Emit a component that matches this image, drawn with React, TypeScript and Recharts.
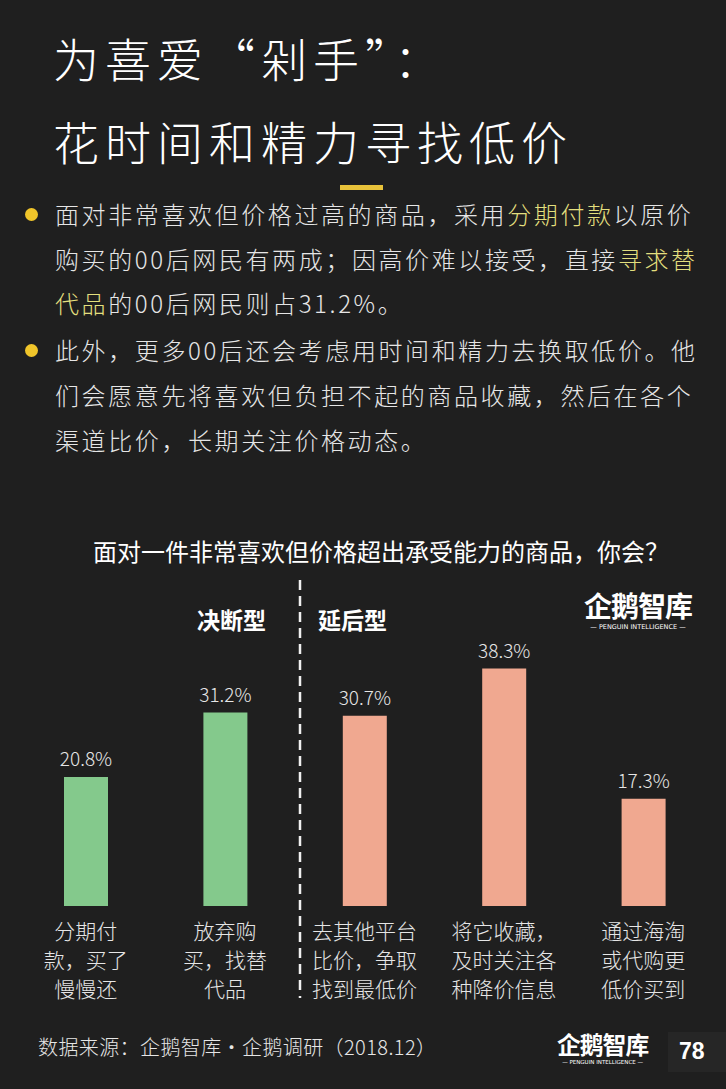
import React from "react";
import { BarChart, Bar, XAxis, YAxis, Cell, LabelList } from "recharts";

document.body.style.margin = "0";

const categories = ["分期付款", "放弃购买", "去其他平台比价", "将它收藏", "海淘或代购"];
const values = [20.8, 31.2, 30.7, 38.3, 17.3];
const labelLines = [
  ["分期付", "款，买了", "慢慢还"],
  ["放弃购", "买，找替", "代品"],
  ["去其他平台", "比价，争取", "找到最低价"],
  ["将它收藏，", "及时关注各", "种降价信息"],
  ["通过海淘", "或代购更", "低价买到"],
];
const groupOf = ["decisive", "decisive", "delayed", "delayed", "delayed"];

const GREEN = "#84c98c";
const SALMON = "#f0a890";
const BG = "#1f1f1f";
const TEXT = "#e6e6e6";
const HL = "#e3df7e";
const FONT = "'Noto Sans CJK SC', 'Noto Sans', sans-serif";

const data = categories.map((name, i) => ({ name, value: values[i] }));

const CategoryTick = (props: any) => {
  const { x, y, index } = props;
  const lines = labelLines[index] || [];
  return (
    <g>
      {lines.map((t, k) => (
        <text
          key={k}
          x={x}
          y={y + 25 + k * 29}
          textAnchor="middle"
          fill={TEXT}
          fontSize={21}
          fontWeight={300}
          fontFamily={FONT}
        >
          {t}
        </text>
      ))}
    </g>
  );
};

const Line = ({ top, children }: { top: number; children: React.ReactNode }) => (
  <div
    style={{
      position: "absolute",
      left: 55,
      top,
      fontSize: 24,
      letterSpacing: 2.6,
      color: TEXT,
      whiteSpace: "nowrap",
      lineHeight: "30px",
      fontWeight: 300,
    }}
  >
    {children}
  </div>
);

const Dot = ({ top }: { top: number }) => (
  <div
    style={{
      position: "absolute",
      left: 25,
      top,
      width: 13,
      height: 13,
      borderRadius: "50%",
      background: "#f0c52a",
    }}
  />
);

const Logo = ({ left, top, scale }: { left: number; top: number; scale: number }) => (
  <div style={{ position: "absolute", left, top, color: "#fff", textAlign: "center" }}>
    <div style={{ fontSize: 28 * scale, fontWeight: 700, lineHeight: `${30 * scale}px`, letterSpacing: -1 }}>
      企鹅智库
    </div>
    <div
      style={{
        fontSize: 6.5 * scale,
        fontFamily: "'DejaVu Sans', sans-serif",
        lineHeight: `${9 * scale}px`,
        marginTop: 3 * scale,
        whiteSpace: "nowrap",
      }}
    >
      — PENGUIN INTELLIGENCE —
    </div>
  </div>
);

export default function App() {
  return (
    <div
      style={{
        position: "relative",
        width: 726,
        height: 1089,
        background: BG,
        overflow: "hidden",
        fontFamily: FONT,
      }}
    >
      <div style={{ position: "absolute", left: 0, top: 0 }}>
        <BarChart
          width={726}
          height={1089}
          data={data}
          margin={{ top: 658, right: 13, bottom: 103, left: 16 }}
        >
          <XAxis
            dataKey="name"
            axisLine={false}
            tickLine={false}
            interval={0}
            height={80}
            tick={<CategoryTick />}
          />
          <YAxis hide domain={[0, 40]} />
          <Bar dataKey="value" barSize={44} isAnimationActive={false}>
            {data.map((_, i) => (
              <Cell key={i} fill={groupOf[i] === "decisive" ? GREEN : SALMON} />
            ))}
            <LabelList
              dataKey="value"
              position="top"
              offset={11}
              formatter={(v: any) => `${v}%`}
              fill={TEXT}
              fontSize={19}
              fontWeight={300}
              fontFamily={FONT}
            />
          </Bar>
        </BarChart>
      </div>

      {/* title */}
      <div
        style={{
          position: "absolute",
          left: 53,
          top: 16,
          color: "#fff",
          fontSize: 46,
          letterSpacing: 6,
          lineHeight: "83px",
          fontWeight: 300,
          whiteSpace: "nowrap",
        }}
      >
        <div>为喜爱“剁手”：</div>
        <div>花时间和精力寻找低价</div>
      </div>
      <div style={{ position: "absolute", left: 340, top: 185, width: 43, height: 5, background: "#e8c23a" }} />

      {/* bullets */}
      <Dot top={208} />
      <Line top={199}>
        面对非常喜欢但价格过高的商品，采用<span style={{ color: HL }}>分期付款</span>以原价
      </Line>
      <Line top={244}>
        购买的00后网民有两成；因高价难以接受，直接<span style={{ color: HL }}>寻求替</span>
      </Line>
      <Line top={288}>
        <span style={{ color: HL }}>代品</span>的00后网民则占31.2%。
      </Line>
      <Dot top={344} />
      <Line top={335}>此外，更多00后还会考虑用时间和精力去换取低价。他</Line>
      <Line top={380}>们会愿意先将喜欢但负担不起的商品收藏，然后在各个</Line>
      <Line top={425}>渠道比价，长期关注价格动态。</Line>

      {/* chart title */}
      <div
        style={{
          position: "absolute",
          left: 0,
          width: 762,
          top: 535,
          textAlign: "center",
          color: "#fff",
          fontSize: 24,
          lineHeight: "32px",
        }}
      >
        面对一件非常喜欢但价格超出承受能力的商品，你会？
      </div>
      <div style={{ position: "absolute", left: 197, top: 603, color: "#fff", fontSize: 23, fontWeight: 700, lineHeight: "32px" }}>
        决断型
      </div>
      <div style={{ position: "absolute", left: 318, top: 603, color: "#fff", fontSize: 23, fontWeight: 700, lineHeight: "32px" }}>
        延后型
      </div>
      <svg style={{ position: "absolute", left: 0, top: 0 }} width={726} height={1089}>
        <line x1={300} y1={580} x2={300} y2={998} stroke="#f0f0f0" strokeWidth={2.5} strokeDasharray="10 6" />
      </svg>
      <Logo left={584} top={590} scale={1} />

      {/* footer */}
      <div
        style={{
          position: "absolute",
          left: 38,
          top: 1033,
          color: TEXT,
          fontSize: 20,
          letterSpacing: 0.4,
          lineHeight: "28px",
          fontWeight: 300,
          whiteSpace: "nowrap",
        }}
      >
        数据来源：企鹅智库·企鹅调研（2018.12）
      </div>
      <Logo left={557} top={1031} scale={0.85} />
      <div style={{ position: "absolute", left: 668, top: 1032, width: 58, height: 40, background: "#262626" }} />
      <div
        style={{
          position: "absolute",
          left: 679,
          top: 1036,
          color: "#fff",
          fontSize: 23,
          fontWeight: 700,
          fontFamily: "'Liberation Sans', Arial, sans-serif",
          lineHeight: "30px",
        }}
      >
        78
      </div>
    </div>
  );
}
